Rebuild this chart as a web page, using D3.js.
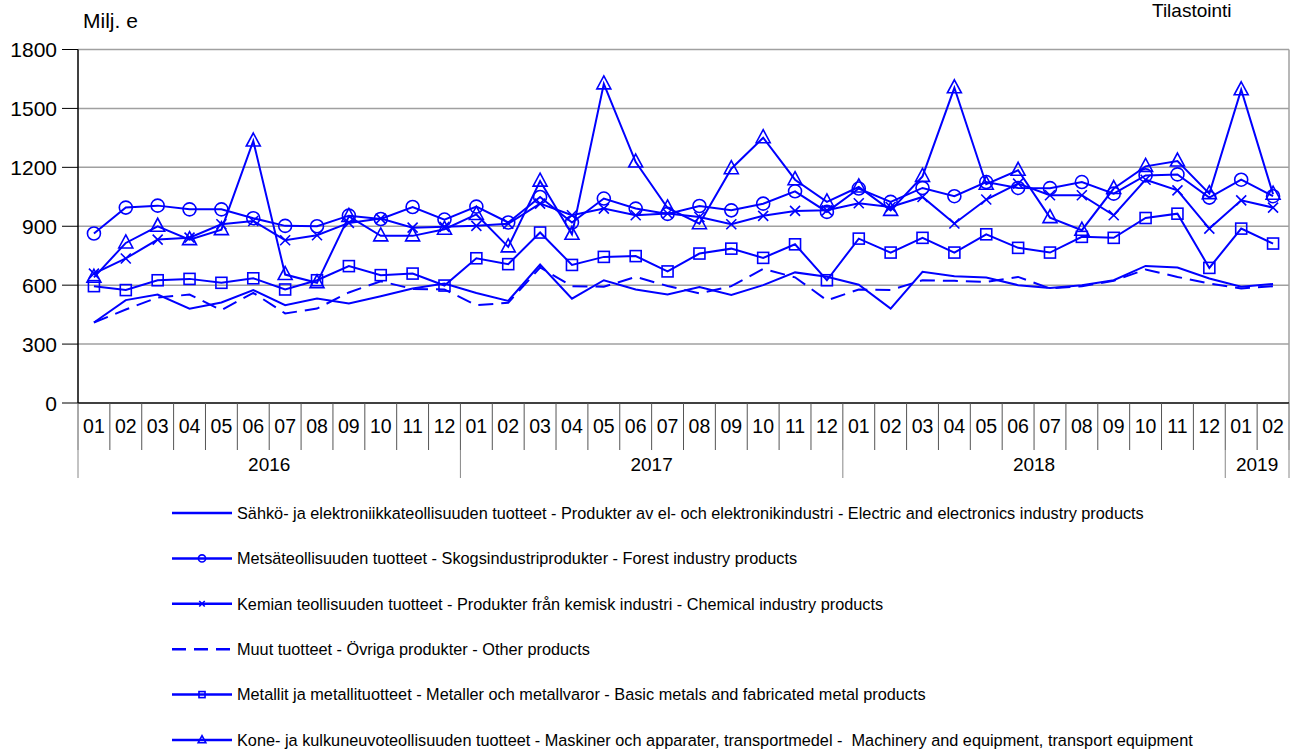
<!DOCTYPE html>
<head>
<meta charset="utf-8" />
</head>
<style>
body {
  margin: 0;
  background: #fff;
  font-family: "Liberation Sans", Arial, sans-serif;
}
svg {
  display: block;
}
.grid line {
  stroke: #a0a0a0;
  stroke-width: 1.5px;
}
.series path.line {
  fill: none;
  stroke: #0000ff;
  stroke-width: 2px;
}
.marker {
  fill: none;
  stroke: #0000ff;
  stroke-width: 1.6px;
}
text {
  fill: #000;
}
</style>
<body>
<script src="https://cdnjs.cloudflare.com/ajax/libs/d3/7.8.5/d3.min.js"></script>
<script>
// months 2016-01 .. 2019-02
var months = ["01","02","03","04","05","06","07","08","09","10","11","12",
              "01","02","03","04","05","06","07","08","09","10","11","12",
              "01","02","03","04","05","06","07","08","09","10","11","12",
              "01","02"];
var years = ["2016", "2017", "2018", "2019"];
var yearLength = [12, 12, 12, 2];
var yTicks = [0, 300, 600, 900, 1200, 1500, 1800];

var seriesNames = [
  "Sähkö- ja elektroniikkateollisuuden tuotteet - Produkter av el- och elektronikindustri - Electric and electronics industry products",
  "Metsäteollisuuden tuotteet - Skogsindustriprodukter - Forest industry products",
  "Kemian teollisuuden tuotteet - Produkter från kemisk industri - Chemical industry products",
  "Muut tuotteet - Övriga produkter - Other products",
  "Metallit ja metallituotteet - Metaller och metallvaror - Basic metals and fabricated metal products",
  "Kone- ja kulkuneuvoteollisuuden tuotteet - Maskiner och apparater, transportmedel -  Machinery and equipment, transport equipment"
];

var sahko = [410, 524, 552, 480, 512, 575, 498, 532, 507, 544, 583, 608,
             560, 520, 705, 531, 625, 578, 553, 590, 550, 600, 665, 643,
             602, 481, 668, 646, 639, 600, 586, 600, 625, 698, 690, 634,
             592, 606];
var metsa = [863, 995, 1005, 986, 986, 941, 902, 900, 954, 937, 998, 934,
             1000, 919, 1049, 919, 1041, 990, 963, 1003, 981, 1015, 1078, 973,
             1092, 1024, 1095, 1053, 1125, 1095, 1094, 1125, 1066, 1159, 1164, 1046,
             1137, 1053];
var kemia = [659, 736, 832, 842, 910, 927, 829, 854, 917, 939, 893, 897,
             902, 913, 1015, 956, 990, 956, 965, 947, 910, 953, 978, 981,
             1017, 998, 1049, 914, 1036, 1117, 1058, 1058, 956, 1137, 1083, 888,
             1032, 995];
var muut = [410, 476, 537, 552, 473, 561, 456, 481, 563, 620, 581, 578,
            498, 510, 690, 595, 592, 642, 596, 558, 595, 683, 640, 523,
            578, 575, 625, 622, 617, 642, 583, 595, 622, 680, 642, 608,
            583, 595];
var metalli = [595, 575, 625, 632, 612, 635, 578, 625, 697, 651, 659, 598,
               737, 707, 868, 703, 744, 748, 670, 761, 786, 739, 808, 625,
               837, 766, 841, 766, 859, 790, 766, 846, 841, 942, 964, 688,
               888, 812];
var kone = [640, 815, 900, 832, 883, 1334, 654, 612, 950, 851, 851, 885,
            960, 795, 1130, 859, 1625, 1227, 993, 913, 1193, 1351, 1137, 1024,
            1100, 981, 1154, 1605, 1114, 1185, 944, 880, 1092, 1205, 1232, 1066,
            1595, 1063];

var series = [
  {name: seriesNames[0], values: sahko, marker: "none", dash: null},
  {name: seriesNames[1], values: metsa, marker: "circle", dash: null},
  {name: seriesNames[2], values: kemia, marker: "x", dash: null},
  {name: seriesNames[3], values: muut, marker: "none", dash: "15,8"},
  {name: seriesNames[4], values: metalli, marker: "square", dash: null},
  {name: seriesNames[5], values: kone, marker: "triangle", dash: null}
];

var width = 1290, height = 751;
// note: "top" clashes with window.top, so use prefixed names
var plotLeft = 78, plotRight = 1289, plotTop = 49.5, plotBottom = 403;

var svg = d3.select("body").append("svg")
  .attr("width", width)
  .attr("height", height);

var x = d3.scaleBand()
  .domain(d3.range(months.length))
  .range([plotLeft, plotRight]);
var y = d3.scaleLinear()
  .domain([0, 1800])
  .range([plotBottom, plotTop]);

function cx(i) { return x(i) + x.bandwidth() / 2; }
function edge(i) { return i < months.length ? x(i) : plotRight; }

/* ------- GRID -------*/
svg.append("g").attr("class", "grid")
  .selectAll("line")
  .data(yTicks.filter(function(d) { return d > 0; }))
  .enter().append("line")
  .attr("x1", plotLeft).attr("x2", plotRight)
  .attr("y1", function(d) { return y(d); })
  .attr("y2", function(d) { return y(d); });

svg.append("line")
  .attr("x1", plotRight).attr("x2", plotRight)
  .attr("y1", plotTop).attr("y2", plotBottom)
  .attr("stroke", "#a0a0a0").attr("stroke-width", 1.5);

/* ------- Y AXIS -------*/
var yAxis = svg.append("g").attr("transform", "translate(" + plotLeft + ",0)");
yAxis.append("line")
  .attr("y1", plotTop).attr("y2", plotBottom)
  .attr("stroke", "#000").attr("stroke-width", 1.5);
yAxis.selectAll("line.tick")
  .data(yTicks)
  .enter().append("line").attr("class", "tick")
  .attr("x1", -16).attr("x2", 0)
  .attr("y1", function(d) { return y(d); })
  .attr("y2", function(d) { return y(d); })
  .attr("stroke", "#000").attr("stroke-width", 1);
yAxis.selectAll("text")
  .data(yTicks)
  .enter().append("text")
  .attr("x", -21)
  .attr("y", function(d) { return y(d); })
  .attr("dy", "0.36em")
  .attr("text-anchor", "end")
  .style("font-size", "21px")
  .text(function(d) { return d; });

svg.append("text")
  .attr("x", 83).attr("y", 28)
  .style("font-size", "21px")
  .text("Milj. e");

svg.append("text")
  .attr("x", 1152).attr("y", 17)
  .style("font-size", "19px")
  .text("Tilastointi");

/* ------- X AXIS (months + years) -------*/
var xAxis = svg.append("g");
xAxis.append("line")
  .attr("x1", plotLeft).attr("x2", plotRight)
  .attr("y1", plotBottom).attr("y2", plotBottom)
  .attr("stroke", "#000").attr("stroke-width", 1.5);

xAxis.selectAll("line.msep")
  .data(d3.range(months.length + 1))
  .enter().append("line").attr("class", "msep")
  .attr("x1", edge).attr("x2", edge)
  .attr("y1", plotBottom).attr("y2", 450)
  .attr("stroke", "#555").attr("stroke-width", 1);

xAxis.selectAll("text.month")
  .data(months)
  .enter().append("text").attr("class", "month")
  .attr("x", function(d, i) { return cx(i); })
  .attr("y", 433)
  .attr("text-anchor", "middle")
  .style("font-size", "19.5px")
  .text(function(d) { return d; });

var yearStart = [0];
yearLength.forEach(function(n, k) { yearStart.push(yearStart[k] + n); });

xAxis.selectAll("line.ysep")
  .data(yearStart)
  .enter().append("line").attr("class", "ysep")
  .attr("x1", edge).attr("x2", edge)
  .attr("y1", 450).attr("y2", 478)
  .attr("stroke", "#888").attr("stroke-width", 1);

xAxis.selectAll("text.year")
  .data(years)
  .enter().append("text").attr("class", "year")
  .attr("x", function(d, k) {
    return (edge(yearStart[k]) + edge(yearStart[k + 1])) / 2;
  })
  .attr("y", 471)
  .attr("text-anchor", "middle")
  .style("font-size", "19px")
  .text(function(d) { return d; });

/* ------- MARKERS -------*/
function drawMarker(g, type, px, py, s) {
  if (type == "circle") {
    g.append("circle").attr("class", "marker")
      .attr("cx", px).attr("cy", py).attr("r", 6.5 * s);
  } else if (type == "square") {
    g.append("rect").attr("class", "marker")
      .attr("x", px - 5.5 * s).attr("y", py - 5.5 * s)
      .attr("width", 11 * s).attr("height", 11 * s);
  } else if (type == "x") {
    var h = 5 * s;
    g.append("path").attr("class", "marker")
      .attr("d", "M" + (px - h) + "," + (py - h) + "L" + (px + h) + "," + (py + h) +
                 "M" + (px - h) + "," + (py + h) + "L" + (px + h) + "," + (py - h));
  } else if (type == "triangle") {
    g.append("path").attr("class", "marker")
      .attr("d", "M" + px + "," + (py - 8 * s) + "L" + (px + 7 * s) + "," + (py + 5 * s) +
                 "L" + (px - 7 * s) + "," + (py + 5 * s) + "Z");
  }
}

/* ------- LINES -------*/
var line = d3.line()
  .x(function(d, i) { return cx(i); })
  .y(function(d) { return y(d); });

series.forEach(function(s) {
  var g = svg.append("g").attr("class", "series");
  g.append("path").attr("class", "line")
    .attr("d", line(s.values))
    .attr("stroke-dasharray", s.dash);
  s.values.forEach(function(v, i) {
    drawMarker(g, s.marker, cx(i), y(v), 1);
  });
});

/* ------- LEGEND -------*/
var legend = svg.append("g").selectAll("g")
  .data(series)
  .enter().append("g")
  .attr("transform", function(d, i) { return "translate(0," + (513 + i * 45.4) + ")"; });

legend.append("line")
  .attr("x1", 172).attr("x2", 232)
  .attr("stroke", "#0000ff").attr("stroke-width", 2.5)
  .attr("stroke-dasharray", function(d) { return d.dash ? "14,8" : null; });

legend.each(function(d) {
  drawMarker(d3.select(this), d.marker, 202, 0, 0.55);
});

legend.append("text")
  .attr("x", 237)
  .attr("dy", "0.36em")
  .style("font-size", "16.3px")
  .style("white-space", "pre")
  .text(function(d) { return d.name; });
</script>
</body>
